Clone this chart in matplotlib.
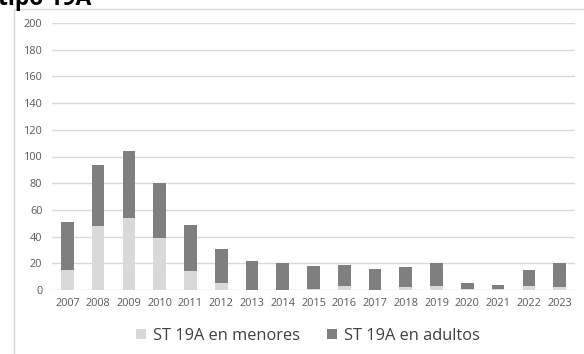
import matplotlib.pyplot as plt
import numpy as np
from matplotlib.patches import Rectangle

years = [str(y) for y in range(2007, 2024)]
menores = [15, 48, 54, 39, 14, 5, 0, 0, 1, 3, 0, 2, 3, 1, 1, 3, 2]
totales = [51, 94, 104, 80, 49, 31, 22, 20, 18, 19, 16, 17, 20, 5, 4, 15, 20]
adultos = [t - m for t, m in zip(totales, menores)]

plt.rcParams['font.family'] = ['Open Sans', 'DejaVu Sans']

fig = plt.figure(figsize=(5.84, 3.54), dpi=100)

# light frame of the embedded chart
fig.patches.append(Rectangle((13.5 / 584, -0.05), 1.0, 1 - 8.5 / 354 + 0.05,
                             transform=fig.transFigure, fill=False,
                             edgecolor='#d9d9d9', linewidth=1))

# title cut off at the top of the picture
fig.text(-0.003, 1 - 5 / 354, "tipo 19A", fontsize=16.5, fontweight='bold',
         ha='left', va='baseline', color='black')

ax = fig.add_axes([52 / 584, 1 - 290 / 354, 523 / 584, 267 / 354])
x = np.arange(len(years))
ax.bar(x, menores, width=0.41, color='#d9d9d9', label='ST 19A en menores', zorder=3)
ax.bar(x, adultos, width=0.41, bottom=menores, color='#7f7f7f',
       label='ST 19A en adultos', zorder=3)

ax.set_ylim(0, 200)
ax.set_xlim(-0.5, len(years) - 0.5)
ax.set_yticks(range(0, 201, 20))
ax.set_xticks(x)
ax.set_xticklabels(years)
ax.yaxis.grid(True, color='#d9d9d9', linewidth=1, zorder=0)
for s in ax.spines.values():
    s.set_visible(False)
ax.tick_params(length=0, labelsize=7.8, labelcolor='#595959')
ax.tick_params(axis='y', pad=7)
ax.tick_params(axis='x', pad=6)

ax.legend(loc='center', bbox_to_anchor=(308 / 584, 1 - 336 / 354),
          bbox_transform=fig.transFigure, ncol=2, frameon=False,
          fontsize=11.8, handlelength=0.6, handleheight=0.6,
          columnspacing=1.7, handletextpad=0.4, labelcolor='#404040')

fig.savefig("out.png", dpi=100)
